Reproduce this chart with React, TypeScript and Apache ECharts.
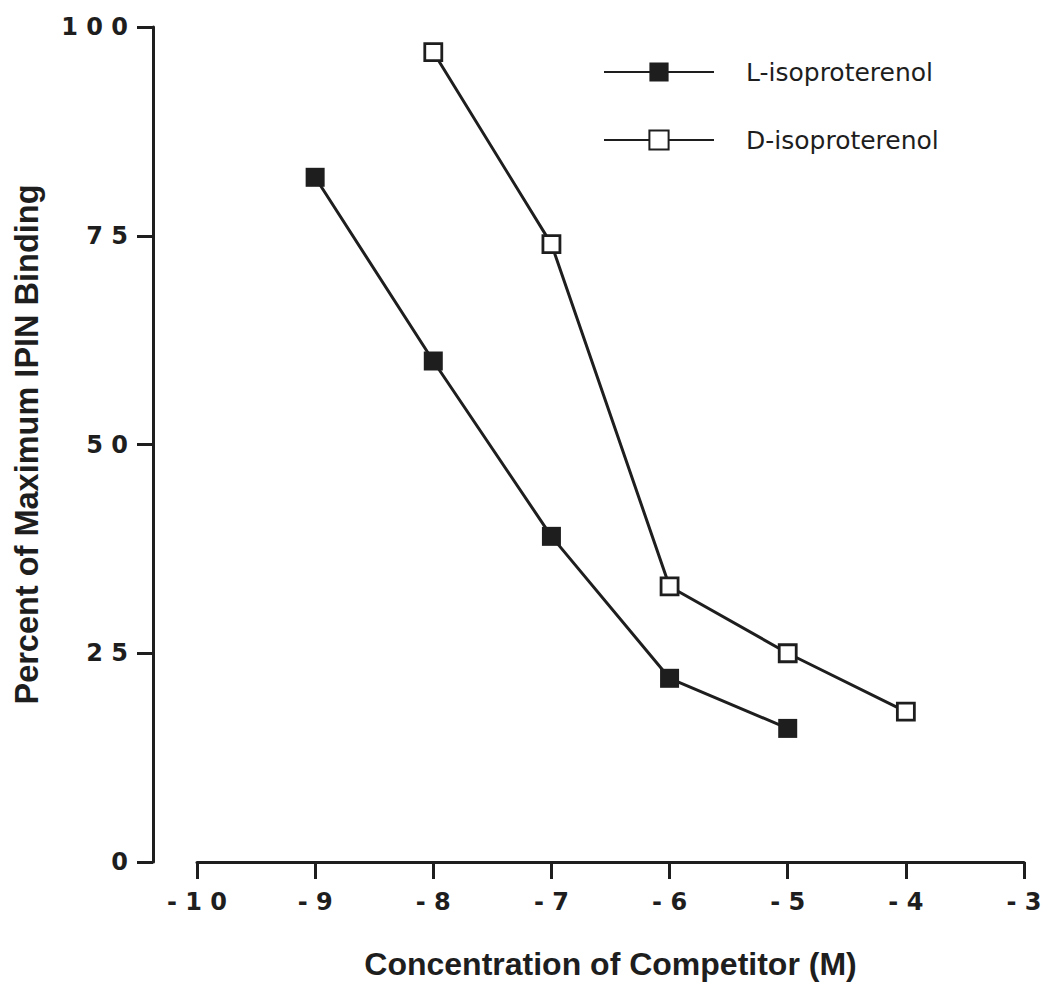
import React, { useEffect, useRef } from "react";
import * as echarts from "echarts";

const xTicks = [-10, -9, -8, -7, -6, -5, -4, -3];
const lConc = [-9, -8, -7, -6, -5];
const lValues = [82, 60, 39, 22, 16];
const dConc = [-8, -7, -6, -5, -4];
const dValues = [97, 74, 33, 25, 18];
const seriesNames = ["L-isoproterenol", "D-isoproterenol"];
const xTitle = "Concentration of Competitor (M)";
const yTitle = "Percent of Maximum IPIN Binding";

const INK = "#1e1e1e";

const spaced = (s: string) => s.split("").join(" ");

export default function App() {
  const ref = useRef<HTMLDivElement>(null);
  useEffect(() => {
    if (!ref.current) return;
    const chart = echarts.init(ref.current, null, { renderer: "svg" });
    const legendText = {
      fontFamily: "DejaVu Sans",
      fontSize: 25,
      color: INK,
      lineHeight: 24,
      padding: [14, 0, 0, 27],
    };
    chart.setOption({
      animation: false,
      backgroundColor: "#ffffff",
      grid: {
        left: 197,
        right: 26,
        top: 27,
        bottom: 123,
        outerBoundsMode: "none",
      },
      legend: [
        {
          data: [seriesNames[0]],
          orient: "vertical",
          left: 598,
          top: 48,
          itemWidth: 110,
          itemHeight: 24,
          textStyle: legendText,
        },
        {
          data: [seriesNames[1]],
          orient: "vertical",
          left: 598,
          top: 116,
          itemWidth: 110,
          itemHeight: 24,
          textStyle: legendText,
        },
      ],
      xAxis: {
        type: "value",
        min: xTicks[0],
        max: xTicks[xTicks.length - 1],
        interval: 1,
        splitLine: { show: false },
        axisLine: { onZero: false, lineStyle: { color: INK, width: 3 } },
        axisTick: { length: 17, lineStyle: { color: INK, width: 3 } },
        axisLabel: {
          margin: 28,
          fontFamily: "DejaVu Sans",
          fontWeight: "bold",
          fontSize: 24,
          color: INK,
          formatter: (v: number) => "- " + spaced(String(Math.abs(v))),
        },
        name: xTitle,
        nameLocation: "middle",
        nameGap: 86,
        nameTextStyle: {
          fontFamily: "Liberation Sans, Arial, sans-serif",
          fontWeight: "bold",
          fontSize: 32,
          color: INK,
        },
      },
      yAxis: {
        type: "value",
        min: 0,
        max: 100,
        interval: 25,
        offset: 44,
        splitLine: { show: false },
        axisLine: { show: true, onZero: false, lineStyle: { color: INK, width: 3 } },
        axisTick: { show: true, length: 16, lineStyle: { color: INK, width: 3 } },
        axisLabel: {
          margin: 25,
          fontFamily: "DejaVu Sans",
          fontWeight: "bold",
          fontSize: 24,
          color: INK,
          formatter: (v: number) => spaced(String(v)),
        },
        name: yTitle,
        nameLocation: "middle",
        nameGap: 110,
        nameTextStyle: {
          fontFamily: "Liberation Sans, Arial, sans-serif",
          fontWeight: "bold",
          fontSize: 32.5,
          color: INK,
        },
      },
      series: [
        {
          name: seriesNames[0],
          type: "line",
          data: lConc.map((x, i) => [x, lValues[i]]),
          symbol: "rect",
          symbolSize: 19,
          lineStyle: { color: INK, width: 3 },
          itemStyle: { color: INK, borderColor: INK, borderWidth: 0 },
          z: 3,
        },
        {
          name: seriesNames[1],
          type: "line",
          data: dConc.map((x, i) => [x, dValues[i]]),
          symbol: "rect",
          symbolSize: 17,
          lineStyle: { color: INK, width: 3 },
          itemStyle: { color: "#ffffff", borderColor: INK, borderWidth: 2.8 },
          z: 3,
        },
      ],
    });
    return () => chart.dispose();
  }, []);
  return (
    <div
      ref={ref}
      style={{ position: "fixed", left: 0, top: 0, width: 1050, height: 985, background: "#fff" }}
    />
  );
}
